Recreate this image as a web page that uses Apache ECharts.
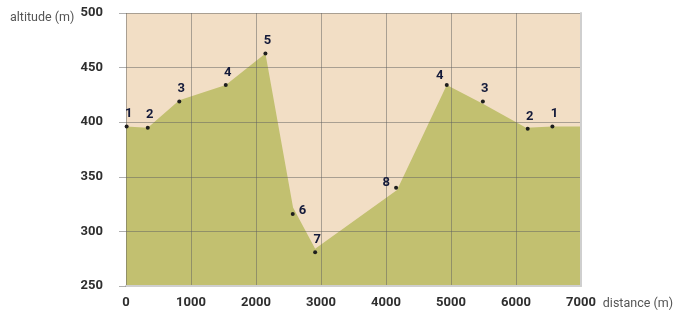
<!DOCTYPE html>
<html>
<head>
<meta charset="utf-8">
<script src="https://cdn.jsdelivr.net/npm/echarts@6/dist/echarts.min.js"></script>
<style>
  html, body { margin: 0; padding: 0; background: #fff; }
  #chart { width: 674px; height: 315px; }
</style>
</head>
<body>
<div id="chart"></div>
<script>
// numbered survey points along the route
const pointNames = ['1', '2', '3', '4', '5', '6', '7', '8', '4', '3', '2', '1'];
const pointDistance = [10, 335, 820, 1535, 2145, 2565, 2910, 4155, 4935, 5490, 6180, 6560];
const pointAltitude = [396, 395, 419, 434, 463, 316, 281, 340, 434, 419, 394, 396];

// outline of the shaded terrain profile
const profileDistance = [0, 335, 820, 1535, 2145, 2570, 2910, 4170, 4935, 5490, 6155, 6560, 7000];
const profileAltitude = [396, 395, 420, 434, 463, 322, 284, 338, 434, 417, 395, 396, 396];

// label placement per point (layout only)
const labelPos = ['top', 'top', 'top', 'top', 'top', 'right', 'top', 'left', 'top', 'top', 'top', 'top'];

const chart = echarts.init(document.getElementById('chart'));

const gridColor = 'rgba(95,95,95,0.5)';
const tickFont = { color: '#2e2e2e', fontFamily: 'Roboto', fontWeight: 'bold', fontSize: 13 };
const nameFont = { color: '#555', fontFamily: 'Roboto', fontSize: 12.5, fontWeight: 'normal' };

chart.setOption({
  animation: false,
  // axis titles
  title: [
    { text: 'altitude (m)', left: 5, top: 6, textStyle: nameFont },
    { text: 'distance (m)', right: 0, top: 292, padding: [5, 1, 5, 5], textStyle: nameFont }
  ],
  grid: {
    left: 126, right: 93, top: 13, bottom: 29,
    outerBoundsMode: 'none',
    containLabel: false,
    show: true,
    backgroundColor: '#f2dec5',
    borderWidth: 0
  },
  xAxis: {
    type: 'value',
    min: 0, max: 7000, interval: 1000,
    z: 3,
    axisLine: { show: true, lineStyle: { color: '#cfcfcf', width: 2 } },
    axisTick: { show: false },
    axisLabel: Object.assign({ margin: 10, formatter: v => String(v) }, tickFont),
    splitLine: { show: true, lineStyle: { color: gridColor, width: 1 } }
  },
  yAxis: [{
    type: 'value',
    min: 250, max: 500, interval: 50,
    z: 3,
    axisLine: { show: false },
    axisTick: { show: true, inside: false, length: 7, lineStyle: { color: gridColor } },
    axisLabel: Object.assign({ margin: 23, padding: [6, 0, 0, 0] }, tickFont),
    splitLine: { show: true, lineStyle: { color: gridColor, width: 1 } }
  }, {
    type: 'value',
    position: 'right',
    min: 250, max: 500,
    z: 3,
    axisLine: { show: true, lineStyle: { color: '#cfcfcf', width: 2 } },
    axisTick: { show: false },
    axisLabel: { show: false },
    splitLine: { show: false }
  }],
  series: [
    {
      type: 'line',
      data: profileDistance.map((d, i) => [d, profileAltitude[i]]),
      showSymbol: false,
      lineStyle: { width: 0 },
      areaStyle: { color: '#c2c070', opacity: 1, origin: 'start' },
      silent: true,
      z: 2
    },
    {
      type: 'scatter',
      data: pointDistance.map((d, i) => ({
        value: [d, pointAltitude[i]],
        label: {
          position: labelPos[i],
          offset: i === 8 ? [-7, 3] : (i === 7 ? [0, -5] : (i === 5 ? [0, -3] : [2, 0]))
        }
      })),
      symbolSize: 4,
      itemStyle: { color: '#1e1e1e', opacity: 1 },
      z: 5,
      label: {
        show: true,
        distance: 4,
        formatter: p => pointNames[p.dataIndex],
        color: '#141a3a',
        fontFamily: 'Roboto',
        fontWeight: 'bold',
        fontSize: 13
      }
    }
  ]
});
</script>
</body>
</html>
